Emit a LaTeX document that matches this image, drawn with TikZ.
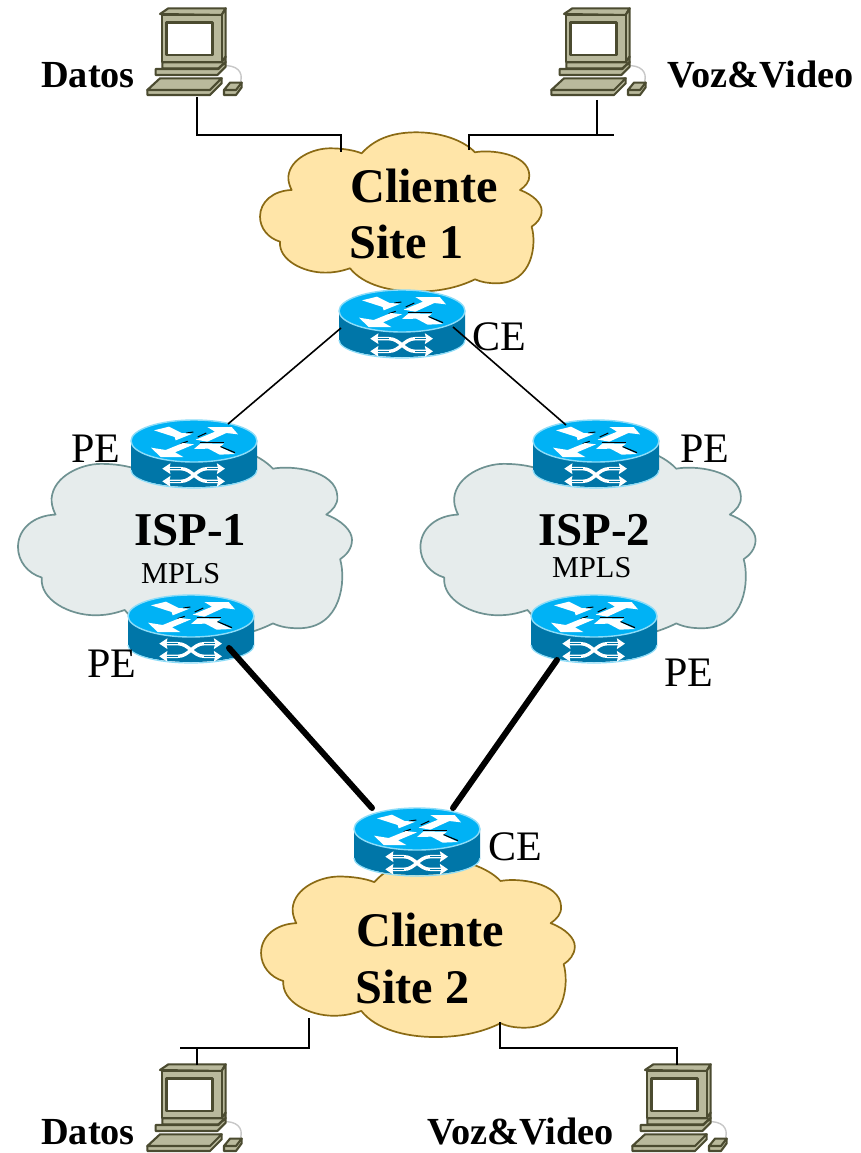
\documentclass[tikz,border=0pt]{standalone}
\usepackage{fontspec}
\setmainfont{Liberation Serif}
\usetikzlibrary{arrows.meta}
\definecolor{cloudY}{HTML}{FFE5A8}
\definecolor{cloudYe}{HTML}{8A6A14}
\definecolor{cloudG}{HTML}{E6ECEC}
\definecolor{cloudGe}{HTML}{6F9292}
\definecolor{rtop}{HTML}{00B2F5}
\definecolor{rrim}{HTML}{8CDCF8}
\definecolor{rside}{HTML}{0076A8}
\definecolor{pcfill}{HTML}{B9B99C}
\definecolor{pcedge}{HTML}{4B4B30}
\tikzset{
  bigbold/.style={anchor=base west,inner sep=0pt,font=\bfseries\fontsize{48.3}{49}\selectfont},
  ispbold/.style={anchor=base west,inner sep=0pt,font=\bfseries\fontsize{47}{48}\selectfont},
  hostlabel/.style={anchor=base west,inner sep=0pt,font=\bfseries\fontsize{38.3}{39}\selectfont},
  routerlabel/.style={anchor=base west,inner sep=0pt,font=\fontsize{42}{42}\selectfont},
  mplslabel/.style={anchor=base west,inner sep=0pt,font=\fontsize{30.3}{31}\selectfont},
  thinlink/.style={draw=black,line width=1.6pt},
  thicklink/.style={draw=black,line width=6pt,line cap=round},
  cloudshape/.pic={
    \begin{scope}[scale=0.3333,shift={(-450,-280)}]
    \path[pic actions,line width=1.7pt,line join=round]
      (335,100) .. controls (380,50) and (440,37) .. (500,37)
      .. controls (570,37) and (640,60) .. (675,97)
      .. controls (720,88) and (835,100) .. (838,165)
      .. controls (840,185) and (825,200) .. (810,210)
      .. controls (850,225) and (875,250) .. (875,272)
      .. controls (875,295) and (860,310) .. (845,320)
      .. controls (860,370) and (850,490) .. (740,490)
      .. controls (715,490) and (695,487) .. (675,478)
      .. controls (620,505) and (560,515) .. (500,515)
      .. controls (420,515) and (340,495) .. (300,445)
      .. controls (270,455) and (250,458) .. (225,458)
      .. controls (160,458) and (85,420) .. (90,365)
      .. controls (55,355) and (30,325) .. (30,290)
      .. controls (30,245) and (70,212) .. (125,210)
      .. controls (115,190) and (115,180) .. (115,170)
      .. controls (120,115) and (190,85) .. (240,85)
      .. controls (275,85) and (310,90) .. (335,100) -- cycle;
    \end{scope}
  },
  routershape/.pic={
    \fill[rside] (-63,0) -- (-63,29) .. controls (-63,39) and (-35,46) .. (0,46)
      .. controls (35,46) and (63,39) .. (63,29) -- (63,0) -- cycle;
    \draw[rrim,line width=1.2pt] (-63,29) .. controls (-63,39) and (-35,47) .. (0,47)
      .. controls (35,47) and (63,39) .. (63,29);
    \path[fill=rtop,draw=rrim,line width=1.4pt] (-63,0) .. controls (-63,-11.6) and (-35,-21) .. (0,-21)
      .. controls (35,-21) and (63,-11.6) .. (63,0)
      .. controls (63,11.6) and (35,21) .. (0,21)
      .. controls (-35,21) and (-63,11.6) .. (-63,0) -- cycle;
    \begin{scope}[scale=0.3333,shift={(-245,-92)}]
      \draw[black,line width=1pt] (222,68) -- (243,65);
      \draw[black,line width=1pt] (256,80) -- (282,68);
      \draw[black,line width=1pt] (205,100) -- (226,93);
      \draw[black,line width=1.2pt] (262,96) -- (336,96);
      \draw[black,line width=1.2pt] (322,108) -- (368,127);
      \fill[white] (125,60) -- (170,49) -- (208,68) -- (240,70) -- (190,90) -- (187,80) -- cycle;
      \fill[white] (250,88) -- (308,64) -- (285,50) -- (358,50) -- (377,72) -- (342,68) -- (285,94) -- cycle;
      \fill[white] (116,112) -- (160,119) -- (212,98) -- (245,102) -- (188,126) -- (213,140) -- (145,140) -- cycle;
      \fill[white] (245,116) -- (265,99) -- (335,100) -- (322,110) -- (368,131) -- (322,133) -- (288,115) -- cycle;
      \draw[white,line width=3.4pt,{Stealth[length=8pt,width=10.5pt,inset=1pt]}-{Stealth[length=8pt,width=10.5pt,inset=1pt]}]
        (150,175) -- (205,175) .. controls (240,175) and (250,213) .. (285,213) -- (338,213);
      \draw[white,line width=3.4pt,{Stealth[length=8pt,width=10.5pt,inset=1pt]}-{Stealth[length=8pt,width=10.5pt,inset=1pt]}]
        (150,213) -- (205,213) .. controls (240,213) and (250,175) .. (285,175) -- (338,175);
      \draw[rside,line width=0.7pt] (172,175) -- (205,175);
      \draw[rside,line width=0.7pt] (172,213) -- (205,213);
      \draw[rside,line width=0.7pt] (285,175) -- (316,175);
      \draw[rside,line width=0.7pt] (285,213) -- (316,213);
    \end{scope}
  },
  pcshape/.pic={
    \begin{scope}[scale=0.3333,draw=pcedge,fill=pcfill,line width=2.1pt,line join=round]
      \draw[line width=1.4pt,draw=black!22,fill=none] (280,197) .. controls (320,195) and (340,215) .. (332,245);
      \filldraw (90,42) -- (115,25) -- (287,25) -- (275,45) -- cycle;
      \filldraw (275,45) -- (287,25) -- (287,170) -- (275,187) -- cycle;
      \filldraw (97,45) rectangle (275,187);
      \path[fill=white,draw=pcedge,line width=2.4pt] (110,68) rectangle (248,165);
      \filldraw (97,187) -- (275,187) -- (287,170) -- (287,186) -- (265,205) -- (97,205) -- cycle;
      \filldraw (77,207) -- (265,207) -- (287,186) -- (287,200) -- (262,225) -- (77,225) -- cycle;
      \filldraw (52,270) -- (52,285) -- (240,285) -- (275,250) -- (275,235) -- cycle;
      \filldraw (52,270) -- (90,235) -- (275,235) -- (240,270) -- cycle;
      \filldraw (282,270) -- (282,285) -- (318,285) -- (335,262) -- (335,248) -- cycle;
      \filldraw (282,270) -- (300,248) -- (335,248) -- (318,270) -- cycle;
    \end{scope}
  }
}
\begin{document}
\begin{tikzpicture}[x=1pt,y=-1pt]
\useasboundingbox (0,0) rectangle (860,1153);
\fill[white] (0,0) rectangle (860,1153);

% clouds
\pic[fill=cloudY,draw=cloudYe] (cloudA) at (400,213.3) {cloudshape};
\pic[fill=cloudY,draw=cloudYe,xscale=1.114,yscale=1.12] (cloudB) at (417,949.3) {cloudshape};
\pic[fill=cloudG,draw=cloudGe,xscale=1.186,yscale=1.218] (cloudC) at (184,543) {cloudshape};
\pic[fill=cloudG,draw=cloudGe,xscale=1.19,yscale=1.218] (cloudD) at (587,543) {cloudshape};

% computers
\coordinate (pcA) at (130,0);
\coordinate (pcB) at (534,0);
\coordinate (pcC) at (130,1056);
\coordinate (pcD) at (615,1056);
\pic (hostA) at (pcA) {pcshape};
\pic (hostB) at (pcB) {pcshape};
\pic (hostC) at (pcC) {pcshape};
\pic (hostD) at (pcD) {pcshape};

% connector ends
\coordinate (a1) at (197,97);
\coordinate (a2) at (341,152);
\coordinate (b1) at (597,100);
\coordinate (b2) at (469,150);
\coordinate (b3) at (614,135);
\coordinate (c1) at (197,1065);
\coordinate (c2) at (309,1018);
\coordinate (c3) at (180,1048);
\coordinate (d1) at (677,1065);
\coordinate (d2) at (500,1022);
\coordinate (ce1L) at (341,328);
\coordinate (pe1T) at (228,424);
\coordinate (ce1R) at (453,327);
\coordinate (pe2T) at (566,425);
\coordinate (pe1B) at (229,648);
\coordinate (ce2L) at (372,808);
\coordinate (pe2B) at (557,660);
\coordinate (ce2R) at (453,808);

\draw[thinlink] (a1) |- (a2 |- 0,135) -- (a2);
\draw[thinlink] (b2) |- (b3);
\draw[thinlink] (b1) -- (b1 |- b3);
\draw[thinlink] (c2) |- (c3);
\draw[thinlink] (c1) -- (c1 |- c3);
\draw[thinlink] (d1) |- (d2 |- 0,1048) -- (d2);

% routers
\pic (ce1) at (402,311) {routershape};
\pic (pe1) at (194,441) {routershape};
\pic (pe2) at (596,441) {routershape};
\pic (pe3) at (191,616) {routershape};
\pic (pe4) at (594,616) {routershape};
\pic (ce2) at (417,829) {routershape};

\draw[thinlink] (ce1L) -- (pe1T);
\draw[thinlink] (ce1R) -- (pe2T);
\draw[thicklink] (pe1B) -- (ce2L);
\draw[thicklink] (pe2B) -- (ce2R);

% labels
\node[hostlabel] (t1) at (41,88) {Datos};
\node[hostlabel] (t2) at (667,88) {Voz\&Video};
\node[hostlabel] (t3) at (41,1144) {Datos};
\node[hostlabel] (t4) at (427,1144) {Voz\&Video};
\node[bigbold] (t5) at (350,202) {Cliente};
\node[bigbold] (t6) at (349,258) {Site 1};
\node[bigbold] (t7) at (356,946) {Cliente};
\node[bigbold] (t8) at (355,1003) {Site 2};
\node[ispbold] (t9) at (134,545) {ISP-1};
\node[ispbold] (t10) at (538,545) {ISP-2};
\node[mplslabel] (t11) at (141,583) {MPLS};
\node[mplslabel] (t12) at (552,577) {MPLS};
\node[routerlabel] (t13) at (472,350) {CE};
\node[routerlabel] (t14) at (488,860) {CE};
\node[routerlabel] (t15) at (71,462) {PE};
\node[routerlabel] (t16) at (680,462) {PE};
\node[routerlabel] (t17) at (87,677) {PE};
\node[routerlabel] (t18) at (664,686) {PE};
\end{tikzpicture}
\end{document}
